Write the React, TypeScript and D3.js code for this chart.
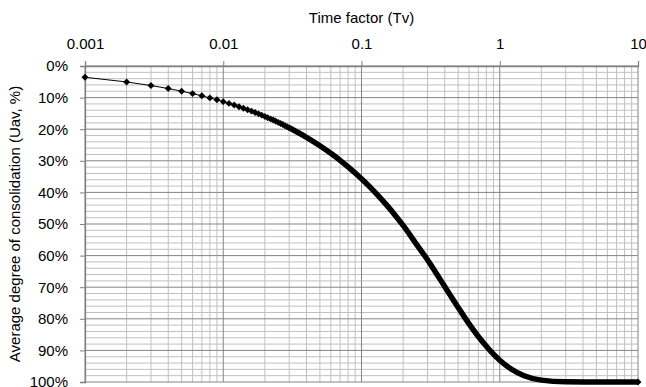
import { useEffect, useRef } from "react";
import * as d3 from "d3";

// Time factor Tv (log axis) and average degree of consolidation Uav (%)
// Markers visible individually at the start of the curve
const TV_MARKED = [
  0.001, 0.002, 0.003, 0.004, 0.005, 0.006, 0.007, 0.008, 0.009, 0.01,
  0.011, 0.012, 0.013, 0.014, 0.015, 0.016, 0.017, 0.018, 0.019, 0.02,
  0.021, 0.022, 0.023, 0.024, 0.025, 0.026, 0.027, 0.028, 0.029, 0.03,
];
const U_MARKED = [
  3.57, 5.05, 6.18, 7.14, 7.98, 8.74, 9.44, 10.09, 10.7, 11.28,
  11.83, 12.36, 12.87, 13.35, 13.82, 14.27, 14.71, 15.14, 15.55, 15.96,
  16.35, 16.74, 17.11, 17.48, 17.84, 18.19, 18.54, 18.88, 19.22, 19.54,
];
// Where markers overlap into a solid band
const TV_BAND = [
  0.03, 0.04, 0.05, 0.06, 0.07, 0.08, 0.1, 0.125, 0.15, 0.175, 0.2, 0.25,
  0.3, 0.35, 0.4, 0.5, 0.6, 0.7, 0.8, 0.9, 1, 1.2, 1.5, 2, 3, 5, 10,
];
const U_BAND = [
  19.54, 22.57, 25.23, 27.64, 29.85, 31.92, 35.68, 39.89, 43.7, 47.2, 50.46, 56.42,
  61.3, 65.8, 69.8, 76.4, 81.6, 85.6, 88.7, 91.2, 93.1, 95.8, 98.0, 99.4, 99.95, 100, 100,
];

const X_TICKS = [0.001, 0.01, 0.1, 1, 10];
const Y_TICKS = [0, 10, 20, 30, 40, 50, 60, 70, 80, 90, 100];

const W = 646;
const H = 387;
const MARGIN = { top: 66, right: 8, bottom: 5, left: 85 };
const FONT = "'Liberation Sans', Arial, sans-serif";

export default function App() {
  const svgRef = useRef<SVGSVGElement>(null);

  useEffect(() => {
    if (!svgRef.current) return;
    const svg = d3.select(svgRef.current);
    svg.selectAll("*").remove();

    const width = W - MARGIN.left - MARGIN.right;
    const height = H - MARGIN.top - MARGIN.bottom;

    const x = d3.scaleLog().domain([0.001, 10]).range([0, width]);
    const y = d3.scaleLinear().domain([0, 100]).range([0, height]);

    const g = svg
      .append("g")
      .attr("transform", `translate(${MARGIN.left},${MARGIN.top})`);

    // minor grid
    const minorX: number[] = [];
    for (let e = -3; e < 1; e++) {
      for (let k = 2; k <= 9; k++) minorX.push(k * Math.pow(10, e));
    }
    const minorY = d3.range(0, 101, 2).filter((v) => v % 10 !== 0);

    g.selectAll(".mx")
      .data(minorX)
      .join("line")
      .attr("x1", (d) => x(d))
      .attr("x2", (d) => x(d))
      .attr("y1", 0)
      .attr("y2", height)
      .attr("stroke", "#c0c0c0")
      .attr("stroke-width", 1);

    g.selectAll(".my")
      .data(minorY)
      .join("line")
      .attr("x1", 0)
      .attr("x2", width)
      .attr("y1", (d) => y(d))
      .attr("y2", (d) => y(d))
      .attr("stroke", "#c0c0c0")
      .attr("stroke-width", 1);

    // major grid
    g.selectAll(".Mx")
      .data(X_TICKS)
      .join("line")
      .attr("x1", (d) => x(d))
      .attr("x2", (d) => x(d))
      .attr("y1", 0)
      .attr("y2", height)
      .attr("stroke", "#858585")
      .attr("stroke-width", 1);

    g.selectAll(".My")
      .data(Y_TICKS)
      .join("line")
      .attr("x1", 0)
      .attr("x2", width)
      .attr("y1", (d) => y(d))
      .attr("y2", (d) => y(d))
      .attr("stroke", "#858585")
      .attr("stroke-width", 1);

    // axes
    const xAxis = g
      .append("g")
      .call(
        d3
          .axisTop(x)
          .tickValues(X_TICKS)
          .tickSize(5)
          .tickPadding(12)
          .tickFormat((d) => String(d))
      );
    const yAxis = g
      .append("g")
      .call(
        d3
          .axisLeft(y)
          .tickValues(Y_TICKS)
          .tickSize(5)
          .tickPadding(12)
          .tickFormat((d) => `${d}%`)
      );
    [xAxis, yAxis].forEach((a) => {
      a.selectAll(".domain").attr("stroke", "#808080").attr("stroke-width", 1.3);
      a.selectAll(".tick line").attr("stroke", "#808080");
      a.selectAll("text")
        .attr("fill", "#000")
        .attr("font-family", FONT)
        .attr("font-size", "15px");
    });

    // curve: thin connecting line + markers, then dense band
    const lineGen = d3
      .line<number>()
      .x((_, i) => x(TV_MARKED[i]))
      .y((d) => y(d));
    g.append("path")
      .datum(U_MARKED)
      .attr("fill", "none")
      .attr("stroke", "#000")
      .attr("stroke-width", 1)
      .attr("d", lineGen);

    const bandGen = d3
      .line<number>()
      .x((_, i) => x(TV_BAND[i]))
      .y((d) => y(d))
      .curve(d3.curveMonotoneX);
    g.append("path")
      .datum(U_BAND)
      .attr("fill", "none")
      .attr("stroke", "#000")
      .attr("stroke-width", 5.5)
      .attr("stroke-linecap", "butt")
      .attr("stroke-linejoin", "round")
      .attr("d", bandGen);

    const diamond = d3.symbol().type(d3.symbolSquare).size(24);
    g.selectAll(".mk")
      .data(U_MARKED)
      .join("path")
      .attr("d", diamond)
      .attr(
        "transform",
        (d, i) => `translate(${x(TV_MARKED[i])},${y(d)}) rotate(45)`
      )
      .attr("fill", "#000");

    // end marker of the band
    g.append("path")
      .attr("d", diamond)
      .attr(
        "transform",
        `translate(${x(TV_BAND[TV_BAND.length - 1])},${y(U_BAND[U_BAND.length - 1])}) rotate(45)`
      )
      .attr("fill", "#000");

    // titles
    svg
      .append("text")
      .attr("x", MARGIN.left + width / 2)
      .attr("y", 23)
      .attr("text-anchor", "middle")
      .attr("font-family", FONT)
      .attr("font-size", "15px")
      .text("Time factor (Tv)");

    svg
      .append("text")
      .attr("transform", `translate(20,${MARGIN.top + height / 2}) rotate(-90)`)
      .attr("text-anchor", "middle")
      .attr("font-family", FONT)
      .attr("font-size", "15px")
      .text("Average degree of consolidation (Uav, %)");
  }, []);

  return (
    <svg
      ref={svgRef}
      width={W}
      height={H}
      style={{ position: "absolute", left: 0, top: 0, background: "#fff" }}
    />
  );
}
